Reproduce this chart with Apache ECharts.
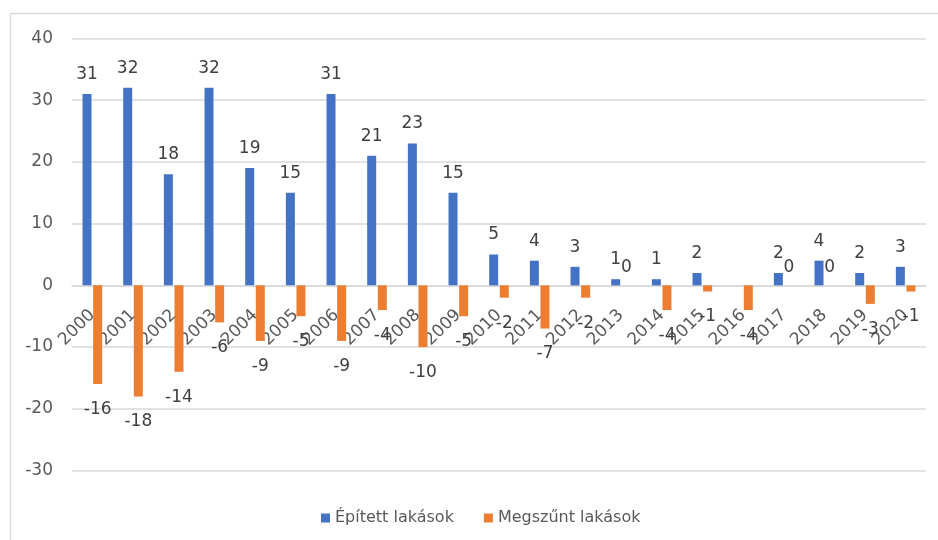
<!DOCTYPE html>
<html>
<head>
<meta charset="utf-8">
<script src="https://cdn.jsdelivr.net/npm/echarts@6/dist/echarts.min.js"></script>
<style>
  html, body { margin: 0; padding: 0; background: #fff; }
  #chart { width: 938px; height: 540px; }
</style>
</head>
<body>
<div id="chart"></div>
<script>
// évek
const years = ["2000", "2001", "2002", "2003", "2004", "2005", "2006", "2007", "2008", "2009",
    "2010", "2011", "2012", "2013", "2014", "2015", "2016", "2017", "2018", "2019", "2020"];
// épített lakások (2016-ban nincs adat)
const built = [31, 32, 18, 32, 19, 15, 31, 21, 23, 15, 5, 4, 3, 1, 1, 2, null, 2, 4, 2, 3];
// megszűnt lakások
const demolished = [-16, -18, -14, -6, -9, -5, -9, -4, -10, -5, -2, -7, -2, 0, -4, -1, -4, 0, 0, -3, -1];
const seriesNames = ["Épített lakások", "Megszűnt lakások"];

const font = "'DejaVu Sans', sans-serif";
const yMin = -30, yMax = 40;
const gridTop = 38.5, gridBottom = 69.5;

const chart = echarts.init(document.getElementById("chart"));
// x tengely a nulla szintre tolva
const plotH = 540 - gridTop - gridBottom;
const zeroOffset = -plotH * (0 - yMin) / (yMax - yMin);

const option = {
    backgroundColor: "#fff",
    animation: false,
    textStyle: { fontFamily: font },
    graphic: [
        {
            type: "rect",
            shape: { x: 10.5, y: 13.5, width: 940, height: 540 },
            style: { fill: "none", stroke: "#d9d9d9", lineWidth: 1.5 },
            silent: true
        }
    ],
    legend: {
        bottom: 9,
        left: 316,
        itemWidth: 9,
        itemHeight: 9,
        itemGap: 30,
        icon: "rect",
        textStyle: { color: "#595959", fontSize: 16, fontFamily: font },
        data: seriesNames
    },
    grid: { left: 72, right: 12, top: gridTop, bottom: gridBottom, containLabel: false },
    xAxis: {
        type: "category",
        data: years,
        offset: zeroOffset,
        axisLine: { onZero: false, lineStyle: { color: "#d9d9d9", width: 1.5 } },
        axisTick: { show: false },
        axisLabel: { rotate: 45, color: "#595959", fontSize: 17, margin: 27, interval: 0, fontFamily: font }
    },
    yAxis: {
        type: "value",
        min: yMin,
        max: yMax,
        interval: 10,
        axisLine: { show: false },
        axisTick: { show: false },
        axisLabel: { color: "#595959", fontSize: 17, margin: 19, fontFamily: font },
        splitLine: { lineStyle: { color: "#d9d9d9", width: 1.5 } }
    },
    series: [
        {
            name: seriesNames[0],
            type: "bar",
            data: built,
            barWidth: 9,
            barGap: "18%",
            itemStyle: { color: "#4472C4" },
            label: { show: true, position: "top", distance: 11, color: "#404040", fontSize: 17, fontFamily: font }
        },
        {
            name: seriesNames[1],
            type: "bar",
            data: demolished.map(v => v === 0 ? { value: 0, label: { position: "top", distance: 9 } } : v),
            barWidth: 9,
            itemStyle: { color: "#ED7D31" },
            label: { show: true, position: "bottom", distance: 17, color: "#404040", fontSize: 17, fontFamily: font }
        }
    ]
};
chart.setOption(option);
</script>
</body>
</html>
